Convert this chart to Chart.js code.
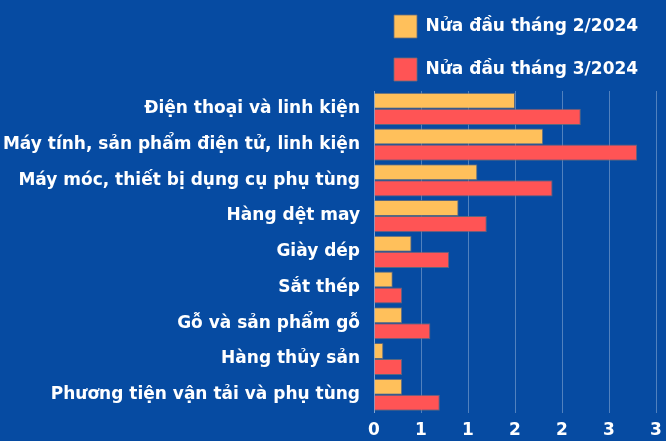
<html><head><meta charset="utf-8">
<script src="https://cdn.jsdelivr.net/npm/chart.js@4"></script>
<style>
  html, body { margin:0; padding:0; background:#064ba2; }
  #wrap { position:relative; width:666px; height:441px; }
</style>
</head>
<body>
<div id="wrap"><canvas id="myChart" width="666" height="441"></canvas></div>
<script>
var categories = ['Điện thoại và linh kiện', 'Máy tính, sản phẩm điện tử, linh kiện',
  'Máy móc, thiết bị dụng cụ phụ tùng', 'Hàng dệt may', 'Giày dép', 'Sắt thép',
  'Gỗ và sản phẩm gỗ', 'Hàng thủy sản', 'Phương tiện vận tải và phụ tùng'];
var feb2024 = [1.5, 1.8, 1.1, 0.9, 0.4, 0.2, 0.3, 0.1, 0.3];
var mar2024 = [2.2, 2.8, 1.9, 1.2, 0.8, 0.3, 0.6, 0.3, 0.7];
var seriesNames = ['Nửa đầu tháng 2/2024', 'Nửa đầu tháng 3/2024'];

var fontFam = '"DejaVu Sans", sans-serif';
var ctx = document.getElementById('myChart');
var myChart = new Chart(ctx, {
  type: 'bar',
  data: {
    labels: categories,
    datasets: [{
      label: seriesNames[0],
      data: feb2024,
      backgroundColor: '#ffc05b',
      borderColor: 'rgba(110,110,120,0.8)',
      borderWidth: 1
    }, {
      label: seriesNames[1],
      data: mar2024,
      backgroundColor: '#ff5455',
      borderColor: 'rgba(110,110,120,0.8)',
      borderWidth: 1
    }]
  },
  options: {
    indexAxis: 'y',
    responsive: false,
    animation: false,
    categoryPercentage: 0.9,
    barPercentage: 1.0,
    layout: { padding: { top: -5, right: 1, bottom: -8, left: 2 } },
    plugins: {
      tooltip: { enabled: false },
      legend: {
        position: 'top',
        align: 'start',
        fullSize: false,
        labels: {
          color: '#ffffff',
          boxWidth: 23,
          boxHeight: 23,
          padding: 20,
          font: { family: fontFam, weight: 'bold', size: 17 }
        }
      }
    },
    scales: {
      x: {
        min: 0, max: 3,
        // the last label may sit close to the right edge
        afterFit: function (scale) { scale.paddingRight = 10; },
        grid: { color: 'rgba(255,255,255,0.3)', drawTicks: false },
        border: { display: false },
        ticks: {
          stepSize: 0.5,
          color: '#ffffff',
          padding: 8,
          font: { family: fontFam, weight: 'bold', size: 17 },
          callback: function (v) { return Math.round(v); }
        }
      },
      y: {
        // labels are wider than half the canvas, so force the axis width
        afterFit: function (scale) { scale.width = 372; },
        grid: { display: false, drawTicks: false },
        border: { color: 'rgba(255,255,255,0.3)' },
        ticks: {
          color: '#ffffff',
          padding: 14,
          font: { family: fontFam, weight: 'bold', size: 17 }
        }
      }
    }
  }
});
</script>
</body></html>
